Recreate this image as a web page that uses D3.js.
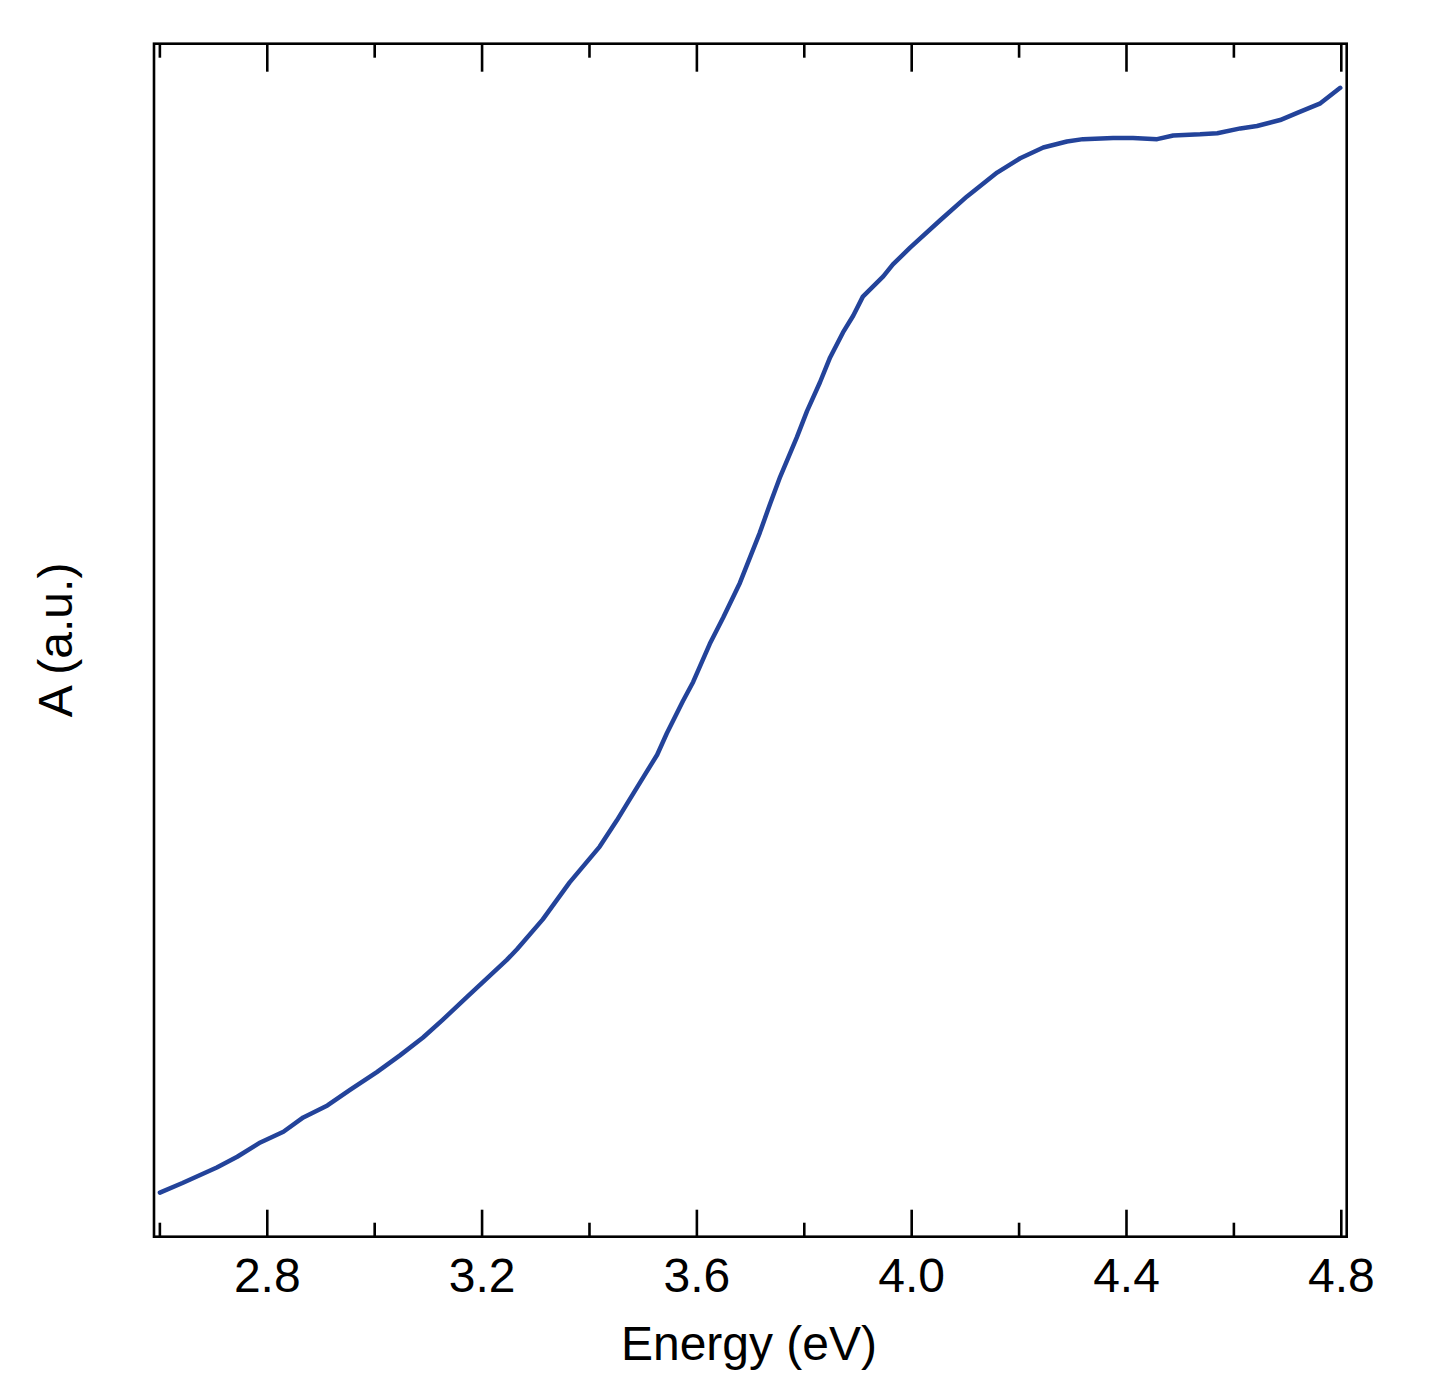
<!DOCTYPE html>
<html>
<head>
<meta charset="utf-8">
<script src="https://cdn.jsdelivr.net/npm/d3@7"></script>
<style>
  html, body { margin: 0; padding: 0; background: #fff; }
  svg { display: block; }
  text { font-family: "Liberation Sans", Arial, Helvetica, sans-serif; fill: #000; }
</style>
</head>
<body>
<svg id="chart" width="1456" height="1388"></svg>
<script>
// Absorbance spectrum (arbitrary units, 0..1 = frame)
var energy = [
  2.601, 2.643, 2.707, 2.745, 2.788, 2.831, 2.868, 2.913, 2.955, 3.005,
  3.048, 3.091, 3.128, 3.173, 3.216, 3.247, 3.266, 3.314, 3.364, 3.420,
  3.452, 3.471, 3.501, 3.527, 3.545, 3.575, 3.594, 3.625, 3.650, 3.681,
  3.718, 3.737, 3.756, 3.787, 3.806, 3.830, 3.849, 3.873, 3.892, 3.910,
  3.948, 3.966, 3.998, 4.054, 4.104, 4.160, 4.203, 4.246, 4.290, 4.320,
  4.376, 4.413, 4.458, 4.488, 4.538, 4.570, 4.613, 4.644, 4.687, 4.719,
  4.762, 4.799
];
var absorbance = [
  0.037, 0.045, 0.058, 0.067, 0.079, 0.088, 0.100, 0.110, 0.123, 0.138,
  0.152, 0.167, 0.182, 0.201, 0.219, 0.232, 0.241, 0.266, 0.297, 0.327,
  0.349, 0.363, 0.385, 0.404, 0.422, 0.449, 0.465, 0.497, 0.519, 0.548,
  0.590, 0.614, 0.637, 0.670, 0.692, 0.716, 0.737, 0.758, 0.772, 0.788,
  0.805, 0.815, 0.829, 0.852, 0.872, 0.892, 0.904, 0.913, 0.918, 0.920,
  0.921, 0.921, 0.920, 0.923, 0.924, 0.925, 0.929, 0.931, 0.936, 0.942,
  0.950, 0.963
];
var majorTicks = [2.8, 3.2, 3.6, 4.0, 4.4, 4.8];
var minorTicks = [2.6, 3.0, 3.4, 3.8, 4.2, 4.6];
var xLabel = "Energy (eV)";
var yLabel = "A (a.u.)";

var svg = d3.select("#chart");
// plot frame (note: "top" is a reserved window global, so use other names)
var fLeft = 154, fRight = 1346.7, fTop = 43.7, fBottom = 1236.7;

var x = d3.scaleLinear().domain([2.59, 4.811]).range([fLeft, fRight]);
var y = d3.scaleLinear().domain([0, 1]).range([fBottom, fTop]);

var data = energy.map(function (e, i) { return [e, absorbance[i]]; });

// curve
svg.append("path")
  .datum(data)
  .attr("fill", "none")
  .attr("stroke", "#23439a")
  .attr("stroke-width", 4.5)
  .attr("stroke-linejoin", "round")
  .attr("stroke-linecap", "round")
  .attr("d", d3.line()
    .x(function (d) { return x(d[0]); })
    .y(function (d) { return y(d[1]); }));

// ticks, pointing inward on bottom and top
function styleAxis(g) {
  g.select(".domain").remove();
  g.selectAll(".tick line").attr("stroke", "#000").attr("stroke-width", 2.6);
}

svg.append("g")
  .attr("transform", "translate(0," + fBottom + ")")
  .call(d3.axisBottom(x).tickValues(majorTicks).tickSize(-27).tickFormat(d3.format(".1f")))
  .call(styleAxis)
  .call(function (g) {
    g.selectAll(".tick text")
      .attr("y", 55).attr("dy", 0)
      .attr("font-size", 48)
      .style("font-family", '"Liberation Sans", Arial, sans-serif');
  });

svg.append("g")
  .attr("transform", "translate(0," + fBottom + ")")
  .call(d3.axisBottom(x).tickValues(minorTicks).tickSize(-14).tickFormat(""))
  .call(styleAxis);

svg.append("g")
  .attr("transform", "translate(0," + fTop + ")")
  .call(d3.axisTop(x).tickValues(majorTicks).tickSize(-28).tickFormat(""))
  .call(styleAxis);

svg.append("g")
  .attr("transform", "translate(0," + fTop + ")")
  .call(d3.axisTop(x).tickValues(minorTicks).tickSize(-14).tickFormat(""))
  .call(styleAxis);

// frame
svg.append("rect")
  .attr("x", fLeft).attr("y", fTop)
  .attr("width", fRight - fLeft).attr("height", fBottom - fTop)
  .attr("fill", "none")
  .attr("stroke", "#000")
  .attr("stroke-width", 2.6);

// axis titles
svg.append("text")
  .attr("x", 749).attr("y", 1360)
  .attr("text-anchor", "middle")
  .attr("font-size", 48)
  .text(xLabel);

svg.append("text")
  .attr("transform", "translate(72,640) rotate(-90)")
  .attr("text-anchor", "middle")
  .attr("font-size", 48)
  .text(yLabel);
</script>
</body>
</html>
